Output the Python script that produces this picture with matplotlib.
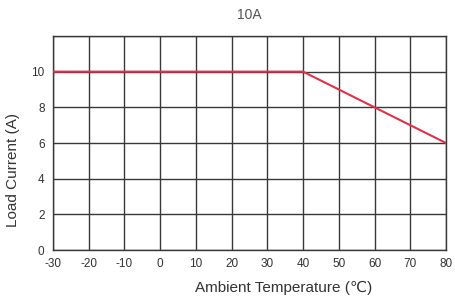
import matplotlib
matplotlib.use('Agg')
from matplotlib import pyplot

plt = pyplot
plt.rcParams['font.family'] = ['Liberation Sans', 'DejaVu Sans']
plt.rcParams['axes.unicode_minus'] = False

# derating curve
temp = [-30, 40, 80]
current = [10, 10, 6]

x_ticks = [-30, -20, -10, 0, 10, 20, 30, 40, 50, 60, 70, 80]
y_ticks = [0, 2, 4, 6, 8, 10]

fig = plt.figure(figsize=(4.56, 2.97), dpi=100)
ax = fig.add_axes([0.116, 0.158, 0.862, 0.721])

ax.plot(temp, current, color='#e0304a', linewidth=1.5, zorder=3)

ax.set_xlim(-30, 80)
ax.set_ylim(0, 12)
ax.set_xticks(x_ticks)
ax.set_yticks(y_ticks)
ax.set_yticks([12], minor=True)
ax.grid(True, which='both', color='#383838', linewidth=1.0)
ax.tick_params(length=0, labelsize=8.5, colors='#333333', pad=6)
ax.tick_params(which='minor', length=0)
for s in ax.spines.values():
    s.set_color('#383838')
    s.set_linewidth(1.0)

ax.set_title('10A', fontsize=10, color='#555555', pad=12)
ax.set_xlabel('Ambient Temperature (℃)', fontsize=11, color='#333333')
ax.set_ylabel('Load Current (A)', fontsize=11, color='#333333')
ax.xaxis.set_label_coords(0.588, -0.142)
ax.yaxis.set_label_coords(-0.084, 0.374)

fig.savefig('out.png', dpi=100)
